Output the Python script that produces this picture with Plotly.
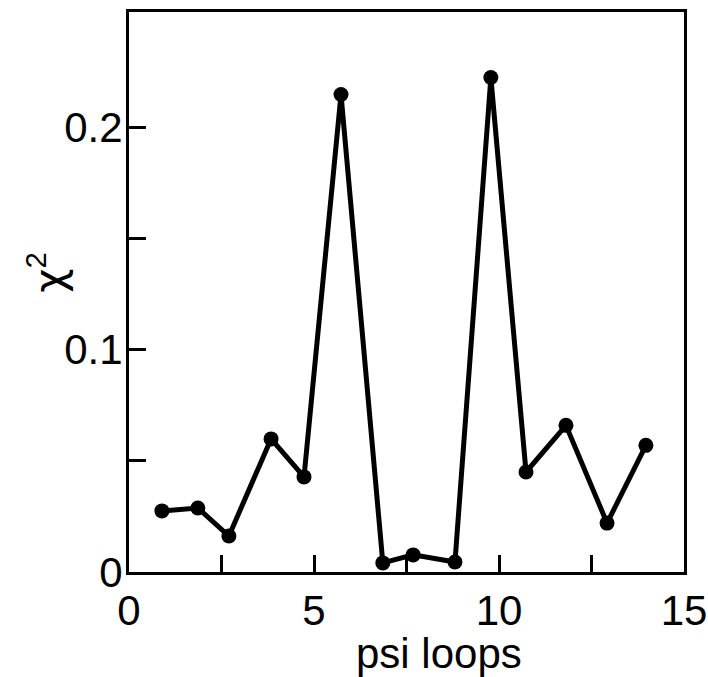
import plotly.graph_objects as go

# Data
psi_loops = [0.89, 1.86, 2.70, 3.84, 4.73, 5.73, 6.86, 7.68, 8.81, 9.78, 10.73, 11.81, 12.92, 13.97]
chi2 = [0.0275, 0.0288, 0.0162, 0.0599, 0.0428, 0.2149, 0.0041, 0.0077, 0.0045, 0.2225, 0.045, 0.066, 0.022, 0.057]

x_tickvals = [0, 5, 10, 15]
x_ticktext = ["0", "5", "10", "15"]
x_minor = [2.5, 7.5, 12.5]
y_tickvals = [0, 0.1, 0.2]
y_ticktext = ["0", "0.1", "0.2"]
y_minor = [0.05, 0.15]

FONT = "Liberation Sans, Arial, Helvetica, sans-serif"

fig = go.Figure()
fig.add_trace(go.Scatter(
    x=psi_loops, y=chi2, mode="lines+markers",
    line=dict(color="black", width=5),
    marker=dict(color="black", size=15),
    showlegend=False,
))

axis_common = dict(
    showline=True, linecolor="black", linewidth=3, mirror=True,
    ticks="inside", ticklen=17, tickwidth=2.5, tickcolor="black",
    showgrid=False, zeroline=False, automargin=False,
    tickfont=dict(family=FONT, size=42, color="black"),
)

fig.update_xaxes(range=[0, 15], tickmode="array", tickvals=x_tickvals, ticktext=x_ticktext,
                 minor=dict(tickmode="array", tickvals=x_minor, ticks="inside", ticklen=17,
                            tickwidth=2.5, tickcolor="black", showgrid=False),
                 **axis_common)
fig.update_yaxes(range=[0, 0.252], tickmode="array", tickvals=y_tickvals, ticktext=y_ticktext,
                 minor=dict(tickmode="array", tickvals=y_minor, ticks="inside", ticklen=17,
                            tickwidth=2.5, tickcolor="black", showgrid=False),
                 ticklabelstandoff=-5,
                 **axis_common)

fig.add_annotation(
    text="psi loops", xref="paper", yref="paper", x=0.559, y=-0.1,
    xanchor="center", yanchor="top", showarrow=False,
    font=dict(family=FONT, size=42, color="black"),
)
fig.add_annotation(
    text="<span style='font-family:DejaVu Sans'>χ</span><sup>2</sup>",
    xref="paper", yref="paper", x=-0.148, y=0.536,
    xanchor="center", yanchor="middle", showarrow=False, textangle=-90,
    font=dict(family=FONT, size=42, color="black"),
)

fig.update_layout(
    width=708, height=677,
    margin=dict(l=129, r=24, t=12, b=105),
    paper_bgcolor="white", plot_bgcolor="white",
)

fig.write_html("out.html")
